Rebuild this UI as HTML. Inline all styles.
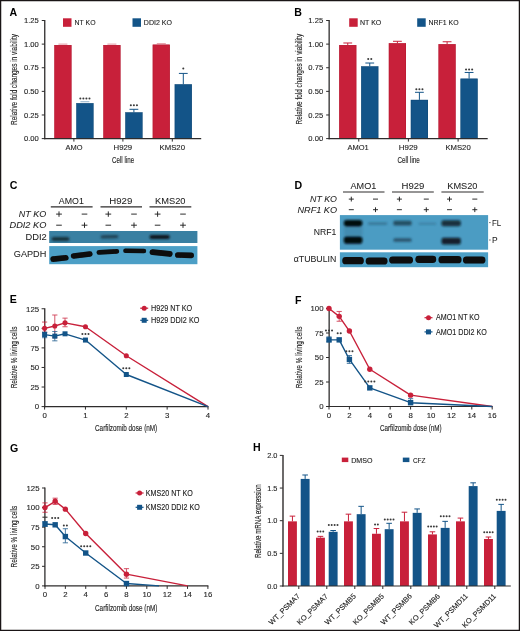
<!DOCTYPE html>
<html><head><meta charset="utf-8"><style>
html,body{margin:0;padding:0;background:#fff;width:520px;height:631px;overflow:hidden}
svg{display:block;will-change:transform}
text{font-family:"Liberation Sans", sans-serif}
</style></head><body>
<svg width="520" height="631" viewBox="0 0 520 631" font-family='"Liberation Sans", sans-serif'>
<defs><filter id="bl1" x="-30%" y="-80%" width="160%" height="260%"><feGaussianBlur stdDeviation="0.9"/></filter><filter id="bl2" x="-30%" y="-80%" width="160%" height="260%"><feGaussianBlur stdDeviation="1.4"/></filter><filter id="bl05" x="-30%" y="-80%" width="160%" height="260%"><feGaussianBlur stdDeviation="0.5"/></filter></defs>
<rect x="0" y="0" width="520" height="631" fill="#fff"/>
<text x="9.60" y="16.30" font-size="10.6" text-anchor="start" font-weight="bold" fill="#000" >A</text>
<line x1="58.40" y1="44.12" x2="67.40" y2="44.12" stroke="#c8203a" stroke-width="0.8" opacity="0.6"/>
<rect x="54.30" y="45.06" width="17.20" height="93.54" fill="#c8203a" />
<rect x="54.55" y="45.31" width="16.70" height="93.29" fill="none" stroke="#a8102a" stroke-width="0.5" opacity="0.6"/>
<line x1="80.40" y1="101.75" x2="89.40" y2="101.75" stroke="#135488" stroke-width="0.8" opacity="0.6"/>
<rect x="76.30" y="103.17" width="17.20" height="35.43" fill="#135488" />
<rect x="76.55" y="103.42" width="16.70" height="35.18" fill="none" stroke="#0b3f6a" stroke-width="0.5" opacity="0.6"/>
<circle cx="80.33" cy="98.60" r="1.02" fill="#3a3a3a"/>
<circle cx="83.38" cy="98.60" r="1.02" fill="#3a3a3a"/>
<circle cx="86.42" cy="98.60" r="1.02" fill="#3a3a3a"/>
<circle cx="89.47" cy="98.60" r="1.02" fill="#3a3a3a"/>
<line x1="107.40" y1="44.12" x2="116.40" y2="44.12" stroke="#c8203a" stroke-width="0.8" opacity="0.6"/>
<rect x="103.30" y="45.06" width="17.20" height="93.54" fill="#c8203a" />
<rect x="103.55" y="45.31" width="16.70" height="93.29" fill="none" stroke="#a8102a" stroke-width="0.5" opacity="0.6"/>
<line x1="133.90" y1="112.33" x2="133.90" y2="109.31" stroke="#135488" stroke-width="1.0" />
<line x1="129.50" y1="109.31" x2="138.30" y2="109.31" stroke="#135488" stroke-width="1.0" />
<rect x="125.30" y="112.33" width="17.20" height="26.27" fill="#135488" />
<rect x="125.55" y="112.58" width="16.70" height="26.02" fill="none" stroke="#0b3f6a" stroke-width="0.5" opacity="0.6"/>
<circle cx="130.85" cy="105.20" r="1.02" fill="#3a3a3a"/>
<circle cx="133.90" cy="105.20" r="1.02" fill="#3a3a3a"/>
<circle cx="136.95" cy="105.20" r="1.02" fill="#3a3a3a"/>
<line x1="156.80" y1="43.65" x2="165.80" y2="43.65" stroke="#c8203a" stroke-width="0.8" opacity="0.6"/>
<rect x="152.70" y="44.59" width="17.20" height="94.01" fill="#c8203a" />
<rect x="152.95" y="44.84" width="16.70" height="93.76" fill="none" stroke="#a8102a" stroke-width="0.5" opacity="0.6"/>
<line x1="183.30" y1="84.27" x2="183.30" y2="73.41" stroke="#135488" stroke-width="1.0" />
<line x1="178.90" y1="73.41" x2="187.70" y2="73.41" stroke="#135488" stroke-width="1.0" />
<rect x="174.70" y="84.27" width="17.20" height="54.33" fill="#135488" />
<rect x="174.95" y="84.52" width="16.70" height="54.08" fill="none" stroke="#0b3f6a" stroke-width="0.5" opacity="0.6"/>
<circle cx="183.30" cy="68.60" r="1.02" fill="#3a3a3a"/>
<line x1="44.75" y1="20.00" x2="44.75" y2="139.20" stroke="#2e2c2c" stroke-width="1.3" />
<line x1="44.15" y1="138.60" x2="201.20" y2="138.60" stroke="#2e2c2c" stroke-width="1.2" />
<line x1="41.75" y1="138.60" x2="44.75" y2="138.60" stroke="#2e2c2c" stroke-width="1.0" />
<text x="38.75" y="141.20" font-size="7.3" text-anchor="end" stroke="#262626" stroke-width="0.12" fill="#262626" textLength="14.80" lengthAdjust="spacingAndGlyphs" >0.00</text>
<line x1="41.75" y1="114.98" x2="44.75" y2="114.98" stroke="#2e2c2c" stroke-width="1.0" />
<text x="38.75" y="117.58" font-size="7.3" text-anchor="end" stroke="#262626" stroke-width="0.12" fill="#262626" textLength="14.80" lengthAdjust="spacingAndGlyphs" >0.25</text>
<line x1="41.75" y1="91.36" x2="44.75" y2="91.36" stroke="#2e2c2c" stroke-width="1.0" />
<text x="38.75" y="93.96" font-size="7.3" text-anchor="end" stroke="#262626" stroke-width="0.12" fill="#262626" textLength="14.80" lengthAdjust="spacingAndGlyphs" >0.50</text>
<line x1="41.75" y1="67.74" x2="44.75" y2="67.74" stroke="#2e2c2c" stroke-width="1.0" />
<text x="38.75" y="70.34" font-size="7.3" text-anchor="end" stroke="#262626" stroke-width="0.12" fill="#262626" textLength="14.80" lengthAdjust="spacingAndGlyphs" >0.75</text>
<line x1="41.75" y1="44.12" x2="44.75" y2="44.12" stroke="#2e2c2c" stroke-width="1.0" />
<text x="38.75" y="46.72" font-size="7.3" text-anchor="end" stroke="#262626" stroke-width="0.12" fill="#262626" textLength="14.80" lengthAdjust="spacingAndGlyphs" >1.00</text>
<line x1="41.75" y1="20.50" x2="44.75" y2="20.50" stroke="#2e2c2c" stroke-width="1.0" />
<text x="38.75" y="23.10" font-size="7.3" text-anchor="end" stroke="#262626" stroke-width="0.12" fill="#262626" textLength="14.80" lengthAdjust="spacingAndGlyphs" >1.25</text>
<line x1="73.90" y1="138.60" x2="73.90" y2="141.60" stroke="#2e2c2c" stroke-width="1.0" />
<line x1="122.90" y1="138.60" x2="122.90" y2="141.60" stroke="#2e2c2c" stroke-width="1.0" />
<line x1="172.30" y1="138.60" x2="172.30" y2="141.60" stroke="#2e2c2c" stroke-width="1.0" />
<text x="65.50" y="150.20" font-size="7.4" text-anchor="start" stroke="#262626" stroke-width="0.12" fill="#262626" textLength="17.00" lengthAdjust="spacingAndGlyphs" >AMO</text>
<text x="113.50" y="150.20" font-size="7.4" text-anchor="start" stroke="#262626" stroke-width="0.12" fill="#262626" textLength="18.70" lengthAdjust="spacingAndGlyphs" >H929</text>
<text x="159.50" y="150.20" font-size="7.4" text-anchor="start" stroke="#262626" stroke-width="0.12" fill="#262626" textLength="25.50" lengthAdjust="spacingAndGlyphs" >KMS20</text>
<text x="112.00" y="163.20" font-size="9.2" text-anchor="start" stroke="#262626" stroke-width="0.15" fill="#262626" textLength="22.10" lengthAdjust="spacingAndGlyphs" >Cell line</text>
<text x="16.90" y="125.00" font-size="9.4" text-anchor="start" stroke="#262626" stroke-width="0.15" fill="#262626" textLength="91.00" lengthAdjust="spacingAndGlyphs" transform="rotate(-90 16.90 125.00)" >Relative fold changes in viability</text>
<rect x="63.00" y="18.30" width="8.50" height="8.50" fill="#c8203a" />
<text x="74.60" y="25.40" font-size="7.8" text-anchor="start" stroke="#222" stroke-width="0.12" fill="#222" textLength="21.00" lengthAdjust="spacingAndGlyphs" >NT KO</text>
<rect x="132.50" y="18.30" width="8.50" height="8.50" fill="#135488" />
<text x="143.80" y="25.40" font-size="7.8" text-anchor="start" stroke="#222" stroke-width="0.12" fill="#222" textLength="28.20" lengthAdjust="spacingAndGlyphs" >DDI2 KO</text>
<text x="294.20" y="16.30" font-size="10.6" text-anchor="start" font-weight="bold" fill="#000" >B</text>
<line x1="347.75" y1="45.06" x2="347.75" y2="42.99" stroke="#c8203a" stroke-width="1.0" />
<line x1="343.35" y1="42.99" x2="352.15" y2="42.99" stroke="#c8203a" stroke-width="1.0" />
<rect x="339.15" y="45.06" width="17.20" height="93.54" fill="#c8203a" />
<rect x="339.40" y="45.31" width="16.70" height="93.29" fill="none" stroke="#a8102a" stroke-width="0.5" opacity="0.6"/>
<line x1="369.75" y1="66.32" x2="369.75" y2="63.02" stroke="#135488" stroke-width="1.0" />
<line x1="365.35" y1="63.02" x2="374.15" y2="63.02" stroke="#135488" stroke-width="1.0" />
<rect x="361.15" y="66.32" width="17.20" height="72.28" fill="#135488" />
<rect x="361.40" y="66.57" width="16.70" height="72.03" fill="none" stroke="#0b3f6a" stroke-width="0.5" opacity="0.6"/>
<circle cx="368.23" cy="59.00" r="1.02" fill="#3a3a3a"/>
<circle cx="371.28" cy="59.00" r="1.02" fill="#3a3a3a"/>
<line x1="397.40" y1="43.18" x2="397.40" y2="41.29" stroke="#c8203a" stroke-width="1.0" />
<line x1="393.00" y1="41.29" x2="401.80" y2="41.29" stroke="#c8203a" stroke-width="1.0" />
<rect x="388.80" y="43.18" width="17.20" height="95.42" fill="#c8203a" />
<rect x="389.05" y="43.43" width="16.70" height="95.17" fill="none" stroke="#a8102a" stroke-width="0.5" opacity="0.6"/>
<line x1="419.40" y1="99.86" x2="419.40" y2="92.30" stroke="#135488" stroke-width="1.0" />
<line x1="415.00" y1="92.30" x2="423.80" y2="92.30" stroke="#135488" stroke-width="1.0" />
<rect x="410.80" y="99.86" width="17.20" height="38.74" fill="#135488" />
<rect x="411.05" y="100.11" width="16.70" height="38.49" fill="none" stroke="#0b3f6a" stroke-width="0.5" opacity="0.6"/>
<circle cx="416.35" cy="89.20" r="1.02" fill="#3a3a3a"/>
<circle cx="419.40" cy="89.20" r="1.02" fill="#3a3a3a"/>
<circle cx="422.45" cy="89.20" r="1.02" fill="#3a3a3a"/>
<line x1="447.10" y1="44.12" x2="447.10" y2="41.76" stroke="#c8203a" stroke-width="1.0" />
<line x1="442.70" y1="41.76" x2="451.50" y2="41.76" stroke="#c8203a" stroke-width="1.0" />
<rect x="438.50" y="44.12" width="17.20" height="94.48" fill="#c8203a" />
<rect x="438.75" y="44.37" width="16.70" height="94.23" fill="none" stroke="#a8102a" stroke-width="0.5" opacity="0.6"/>
<line x1="469.10" y1="78.61" x2="469.10" y2="72.46" stroke="#135488" stroke-width="1.0" />
<line x1="464.70" y1="72.46" x2="473.50" y2="72.46" stroke="#135488" stroke-width="1.0" />
<rect x="460.50" y="78.61" width="17.20" height="59.99" fill="#135488" />
<rect x="460.75" y="78.86" width="16.70" height="59.74" fill="none" stroke="#0b3f6a" stroke-width="0.5" opacity="0.6"/>
<circle cx="466.05" cy="69.40" r="1.02" fill="#3a3a3a"/>
<circle cx="469.10" cy="69.40" r="1.02" fill="#3a3a3a"/>
<circle cx="472.15" cy="69.40" r="1.02" fill="#3a3a3a"/>
<line x1="329.15" y1="20.00" x2="329.15" y2="139.20" stroke="#2e2c2c" stroke-width="1.3" />
<line x1="328.55" y1="138.60" x2="487.70" y2="138.60" stroke="#2e2c2c" stroke-width="1.2" />
<line x1="326.15" y1="138.60" x2="329.15" y2="138.60" stroke="#2e2c2c" stroke-width="1.0" />
<text x="323.15" y="141.20" font-size="7.3" text-anchor="end" stroke="#262626" stroke-width="0.12" fill="#262626" textLength="14.80" lengthAdjust="spacingAndGlyphs" >0.00</text>
<line x1="326.15" y1="114.98" x2="329.15" y2="114.98" stroke="#2e2c2c" stroke-width="1.0" />
<text x="323.15" y="117.58" font-size="7.3" text-anchor="end" stroke="#262626" stroke-width="0.12" fill="#262626" textLength="14.80" lengthAdjust="spacingAndGlyphs" >0.25</text>
<line x1="326.15" y1="91.36" x2="329.15" y2="91.36" stroke="#2e2c2c" stroke-width="1.0" />
<text x="323.15" y="93.96" font-size="7.3" text-anchor="end" stroke="#262626" stroke-width="0.12" fill="#262626" textLength="14.80" lengthAdjust="spacingAndGlyphs" >0.50</text>
<line x1="326.15" y1="67.74" x2="329.15" y2="67.74" stroke="#2e2c2c" stroke-width="1.0" />
<text x="323.15" y="70.34" font-size="7.3" text-anchor="end" stroke="#262626" stroke-width="0.12" fill="#262626" textLength="14.80" lengthAdjust="spacingAndGlyphs" >0.75</text>
<line x1="326.15" y1="44.12" x2="329.15" y2="44.12" stroke="#2e2c2c" stroke-width="1.0" />
<text x="323.15" y="46.72" font-size="7.3" text-anchor="end" stroke="#262626" stroke-width="0.12" fill="#262626" textLength="14.80" lengthAdjust="spacingAndGlyphs" >1.00</text>
<line x1="326.15" y1="20.50" x2="329.15" y2="20.50" stroke="#2e2c2c" stroke-width="1.0" />
<text x="323.15" y="23.10" font-size="7.3" text-anchor="end" stroke="#262626" stroke-width="0.12" fill="#262626" textLength="14.80" lengthAdjust="spacingAndGlyphs" >1.25</text>
<line x1="358.75" y1="138.60" x2="358.75" y2="141.60" stroke="#2e2c2c" stroke-width="1.0" />
<line x1="408.40" y1="138.60" x2="408.40" y2="141.60" stroke="#2e2c2c" stroke-width="1.0" />
<line x1="458.10" y1="138.60" x2="458.10" y2="141.60" stroke="#2e2c2c" stroke-width="1.0" />
<text x="347.50" y="150.20" font-size="7.4" text-anchor="start" stroke="#262626" stroke-width="0.12" fill="#262626" textLength="21.30" lengthAdjust="spacingAndGlyphs" >AMO1</text>
<text x="398.80" y="150.20" font-size="7.4" text-anchor="start" stroke="#262626" stroke-width="0.12" fill="#262626" textLength="18.90" lengthAdjust="spacingAndGlyphs" >H929</text>
<text x="445.40" y="150.20" font-size="7.4" text-anchor="start" stroke="#262626" stroke-width="0.12" fill="#262626" textLength="25.30" lengthAdjust="spacingAndGlyphs" >KMS20</text>
<text x="397.50" y="163.20" font-size="9.2" text-anchor="start" stroke="#262626" stroke-width="0.15" fill="#262626" textLength="22.30" lengthAdjust="spacingAndGlyphs" >Cell line</text>
<text x="301.90" y="124.40" font-size="9.4" text-anchor="start" stroke="#262626" stroke-width="0.15" fill="#262626" textLength="90.50" lengthAdjust="spacingAndGlyphs" transform="rotate(-90 301.90 124.40)" >Relative fold changes in viability</text>
<rect x="349.20" y="18.30" width="8.50" height="8.50" fill="#c8203a" />
<text x="360.00" y="25.40" font-size="7.8" text-anchor="start" stroke="#222" stroke-width="0.12" fill="#222" textLength="21.30" lengthAdjust="spacingAndGlyphs" >NT KO</text>
<rect x="417.20" y="18.30" width="8.50" height="8.50" fill="#135488" />
<text x="428.50" y="25.40" font-size="7.8" text-anchor="start" stroke="#222" stroke-width="0.12" fill="#222" textLength="30.10" lengthAdjust="spacingAndGlyphs" >NRF1 KO</text>
<text x="9.80" y="189.30" font-size="10.6" text-anchor="start" font-weight="bold" fill="#000" >C</text>
<text x="58.80" y="203.90" font-size="9.6" text-anchor="start" stroke="#222" stroke-width="0.05" fill="#222" textLength="25.00" lengthAdjust="spacingAndGlyphs" >AMO1</text>
<line x1="50.80" y1="206.90" x2="92.60" y2="206.90" stroke="#2e2c2c" stroke-width="1.1" />
<text x="109.20" y="203.90" font-size="9.6" text-anchor="start" stroke="#222" stroke-width="0.05" fill="#222" textLength="23.10" lengthAdjust="spacingAndGlyphs" >H929</text>
<line x1="100.50" y1="206.90" x2="142.00" y2="206.90" stroke="#2e2c2c" stroke-width="1.1" />
<text x="155.00" y="203.90" font-size="9.6" text-anchor="start" stroke="#222" stroke-width="0.05" fill="#222" textLength="30.50" lengthAdjust="spacingAndGlyphs" >KMS20</text>
<line x1="149.50" y1="206.90" x2="191.30" y2="206.90" stroke="#2e2c2c" stroke-width="1.1" />
<text x="18.80" y="216.80" font-size="8.9" text-anchor="start" stroke="#222" stroke-width="0.05" font-style="italic" fill="#222" textLength="27.50" lengthAdjust="spacingAndGlyphs" >NT KO</text>
<text x="9.50" y="228.20" font-size="8.9" text-anchor="start" stroke="#222" stroke-width="0.05" font-style="italic" fill="#222" textLength="36.80" lengthAdjust="spacingAndGlyphs" >DDI2 KO</text>
<line x1="56.10" y1="214.10" x2="61.90" y2="214.10" stroke="#222" stroke-width="0.95" />
<line x1="59.00" y1="211.40" x2="59.00" y2="216.80" stroke="#222" stroke-width="0.95" />
<line x1="56.20" y1="225.20" x2="61.80" y2="225.20" stroke="#222" stroke-width="0.95" />
<line x1="81.70" y1="214.10" x2="87.30" y2="214.10" stroke="#222" stroke-width="0.95" />
<line x1="81.60" y1="225.20" x2="87.40" y2="225.20" stroke="#222" stroke-width="0.95" />
<line x1="84.50" y1="222.50" x2="84.50" y2="227.90" stroke="#222" stroke-width="0.95" />
<line x1="105.40" y1="214.10" x2="111.20" y2="214.10" stroke="#222" stroke-width="0.95" />
<line x1="108.30" y1="211.40" x2="108.30" y2="216.80" stroke="#222" stroke-width="0.95" />
<line x1="105.50" y1="225.20" x2="111.10" y2="225.20" stroke="#222" stroke-width="0.95" />
<line x1="131.20" y1="214.10" x2="136.80" y2="214.10" stroke="#222" stroke-width="0.95" />
<line x1="131.10" y1="225.20" x2="136.90" y2="225.20" stroke="#222" stroke-width="0.95" />
<line x1="134.00" y1="222.50" x2="134.00" y2="227.90" stroke="#222" stroke-width="0.95" />
<line x1="154.70" y1="214.10" x2="160.50" y2="214.10" stroke="#222" stroke-width="0.95" />
<line x1="157.60" y1="211.40" x2="157.60" y2="216.80" stroke="#222" stroke-width="0.95" />
<line x1="154.80" y1="225.20" x2="160.40" y2="225.20" stroke="#222" stroke-width="0.95" />
<line x1="180.20" y1="214.10" x2="185.80" y2="214.10" stroke="#222" stroke-width="0.95" />
<line x1="180.10" y1="225.20" x2="185.90" y2="225.20" stroke="#222" stroke-width="0.95" />
<line x1="183.00" y1="222.50" x2="183.00" y2="227.90" stroke="#222" stroke-width="0.95" />
<text x="25.50" y="240.30" font-size="9.5" text-anchor="start" stroke="#222" stroke-width="0.05" fill="#222" textLength="21.30" lengthAdjust="spacingAndGlyphs" >DDI2</text>
<text x="13.80" y="256.60" font-size="9.5" text-anchor="start" stroke="#222" stroke-width="0.05" fill="#222" textLength="32.50" lengthAdjust="spacingAndGlyphs" >GAPDH</text>
<rect x="49.20" y="231.00" width="148.20" height="12.00" fill="#3a80a2" />
<rect x="49.20" y="246.10" width="148.20" height="18.10" fill="#4c9fc6" />
<g filter="url(#bl1)">
<rect x="51.50" y="237.00" width="18.00" height="4.00" rx="2.4" fill="#13242f" opacity="0.85" transform="rotate(0.00 60.50 239.00)"/>
<rect x="100.50" y="235.20" width="18.00" height="3.20" rx="2.4" fill="#1b3848" opacity="0.85" transform="rotate(-1.27 109.50 236.80)"/>
<rect x="149.50" y="235.00" width="20.30" height="4.00" rx="2.4" fill="#08121a" opacity="1.0" transform="rotate(0.00 159.65 237.00)"/>
</g>
<g filter="url(#bl05)">
<rect x="50.35" y="255.60" width="18.31" height="5.60" rx="2.8" fill="#0a0808" opacity="1.0" transform="rotate(-6.27 59.50 258.40)"/>
<rect x="70.72" y="252.20" width="21.95" height="5.60" rx="2.8" fill="#0a0808" opacity="1.0" transform="rotate(-6.80 81.70 255.00)"/>
<rect x="96.48" y="249.50" width="22.74" height="4.80" rx="2.4" fill="#0a0808" opacity="1.0" transform="rotate(-3.53 107.85 251.90)"/>
<rect x="123.20" y="248.65" width="23.00" height="4.50" rx="2.2" fill="#0a0808" opacity="1.0" transform="rotate(0.50 134.70 250.90)"/>
<rect x="149.53" y="250.15" width="23.14" height="5.80" rx="2.9" fill="#0a0808" opacity="1.0" transform="rotate(6.20 161.10 253.05)"/>
<rect x="175.00" y="252.40" width="19.00" height="5.60" rx="2.8" fill="#0a0808" opacity="1.0" transform="rotate(1.21 184.50 255.20)"/>
</g>
<text x="294.50" y="189.30" font-size="10.6" text-anchor="start" font-weight="bold" fill="#000" >D</text>
<text x="350.50" y="188.60" font-size="9.0" text-anchor="start" stroke="#222" stroke-width="0.05" fill="#222" textLength="25.80" lengthAdjust="spacingAndGlyphs" >AMO1</text>
<line x1="343.00" y1="192.00" x2="384.50" y2="192.00" stroke="#2e2c2c" stroke-width="1.1" />
<text x="401.50" y="188.60" font-size="9.0" text-anchor="start" stroke="#222" stroke-width="0.05" fill="#222" textLength="22.90" lengthAdjust="spacingAndGlyphs" >H929</text>
<line x1="392.00" y1="192.00" x2="433.80" y2="192.00" stroke="#2e2c2c" stroke-width="1.1" />
<text x="447.30" y="188.60" font-size="9.0" text-anchor="start" stroke="#222" stroke-width="0.05" fill="#222" textLength="30.20" lengthAdjust="spacingAndGlyphs" >KMS20</text>
<line x1="441.40" y1="192.00" x2="483.70" y2="192.00" stroke="#2e2c2c" stroke-width="1.1" />
<text x="310.00" y="201.60" font-size="8.9" text-anchor="start" stroke="#222" stroke-width="0.05" font-style="italic" fill="#222" textLength="27.00" lengthAdjust="spacingAndGlyphs" >NT KO</text>
<text x="297.50" y="213.20" font-size="8.9" text-anchor="start" stroke="#222" stroke-width="0.05" font-style="italic" fill="#222" textLength="39.50" lengthAdjust="spacingAndGlyphs" >NRF1 KO</text>
<line x1="348.80" y1="199.10" x2="353.80" y2="199.10" stroke="#222" stroke-width="0.95" />
<line x1="351.30" y1="196.70" x2="351.30" y2="201.50" stroke="#222" stroke-width="0.95" />
<line x1="348.80" y1="209.70" x2="353.80" y2="209.70" stroke="#222" stroke-width="0.95" />
<line x1="373.00" y1="199.10" x2="378.00" y2="199.10" stroke="#222" stroke-width="0.95" />
<line x1="373.00" y1="209.70" x2="378.00" y2="209.70" stroke="#222" stroke-width="0.95" />
<line x1="375.50" y1="207.30" x2="375.50" y2="212.10" stroke="#222" stroke-width="0.95" />
<line x1="396.90" y1="199.10" x2="401.90" y2="199.10" stroke="#222" stroke-width="0.95" />
<line x1="399.40" y1="196.70" x2="399.40" y2="201.50" stroke="#222" stroke-width="0.95" />
<line x1="396.90" y1="209.70" x2="401.90" y2="209.70" stroke="#222" stroke-width="0.95" />
<line x1="423.80" y1="199.10" x2="428.80" y2="199.10" stroke="#222" stroke-width="0.95" />
<line x1="423.80" y1="209.70" x2="428.80" y2="209.70" stroke="#222" stroke-width="0.95" />
<line x1="426.30" y1="207.30" x2="426.30" y2="212.10" stroke="#222" stroke-width="0.95" />
<line x1="447.00" y1="199.10" x2="452.00" y2="199.10" stroke="#222" stroke-width="0.95" />
<line x1="449.50" y1="196.70" x2="449.50" y2="201.50" stroke="#222" stroke-width="0.95" />
<line x1="447.00" y1="209.70" x2="452.00" y2="209.70" stroke="#222" stroke-width="0.95" />
<line x1="472.30" y1="199.10" x2="477.30" y2="199.10" stroke="#222" stroke-width="0.95" />
<line x1="472.30" y1="209.70" x2="477.30" y2="209.70" stroke="#222" stroke-width="0.95" />
<line x1="474.80" y1="207.30" x2="474.80" y2="212.10" stroke="#222" stroke-width="0.95" />
<text x="313.80" y="235.20" font-size="9.0" text-anchor="start" stroke="#222" stroke-width="0.05" fill="#222" textLength="22.50" lengthAdjust="spacingAndGlyphs" >NRF1</text>
<text x="293.80" y="261.60" font-size="9.0" text-anchor="start" stroke="#222" stroke-width="0.05" fill="#222" textLength="42.50" lengthAdjust="spacingAndGlyphs" >αTUBULIN</text>
<rect x="339.90" y="215.10" width="148.20" height="34.60" fill="#4b9cc3" />
<rect x="339.90" y="252.30" width="148.20" height="14.90" fill="#4c9fc6" />
<g filter="url(#bl1)">
<rect x="344" y="226" width="18.5" height="10.5" fill="#2a5870" opacity="0.22"/>
<rect x="343.8" y="219.9" width="18.6" height="6.5" rx="2.8" fill="#06090c"/>
<rect x="343.8" y="236.4" width="18.6" height="7.4" rx="2.8" fill="#06090c"/>
<rect x="368" y="222.6" width="19.2" height="2.2" rx="1" fill="#1d4a62" opacity="0.5"/>
<rect x="393.4" y="220.8" width="18.2" height="4.6" rx="1.5" fill="#122c3a" opacity="0.7"/>
<rect x="393.4" y="238.2" width="18.2" height="3.6" rx="1.5" fill="#122c3a" opacity="0.62"/>
<rect x="418.5" y="222.8" width="17.7" height="2.0" rx="1" fill="#245670" opacity="0.4"/>
<rect x="441.5" y="220.2" width="19.3" height="6.0" rx="2" fill="#0a161e" opacity="0.82"/>
<rect x="441.5" y="237.8" width="19.3" height="6.8" rx="2" fill="#08121a" opacity="0.88"/>
</g>
<g filter="url(#bl05)" fill="#0a0808">
<rect x="342.3" y="257.10" width="21.50" height="7.2" rx="3.4"/>
<rect x="365.7" y="257.40" width="21.80" height="7.2" rx="3.4"/>
<rect x="389.2" y="256.40" width="23.80" height="7.2" rx="3.4"/>
<rect x="415.4" y="255.70" width="20.80" height="7.2" rx="3.4"/>
<rect x="438.5" y="256.10" width="23.00" height="7.2" rx="3.4"/>
<rect x="463.0" y="256.40" width="22.40" height="7.2" rx="3.4"/>
</g>
<line x1="489.20" y1="222.60" x2="490.60" y2="222.60" stroke="#2e2c2c" stroke-width="0.8" />
<text x="492.00" y="225.70" font-size="8.5" text-anchor="start" stroke="#222" stroke-width="0.05" fill="#222" textLength="9.20" lengthAdjust="spacingAndGlyphs" >FL</text>
<line x1="489.20" y1="240.00" x2="490.60" y2="240.00" stroke="#2e2c2c" stroke-width="0.8" />
<text x="492.00" y="243.10" font-size="8.5" text-anchor="start" stroke="#222" stroke-width="0.05" fill="#222" textLength="5.60" lengthAdjust="spacingAndGlyphs" >P</text>
<text x="9.80" y="303.30" font-size="10.6" text-anchor="start" font-weight="bold" fill="#000" >E</text>
<line x1="44.75" y1="308.25" x2="44.75" y2="407.20" stroke="#2e2c2c" stroke-width="1.3" />
<line x1="44.00" y1="406.60" x2="208.50" y2="406.60" stroke="#2e2c2c" stroke-width="1.2" />
<line x1="41.60" y1="406.60" x2="44.60" y2="406.60" stroke="#2e2c2c" stroke-width="1.0" />
<text x="39.10" y="409.40" font-size="7.9" text-anchor="end" stroke="#262626" stroke-width="0.12" fill="#262626" textLength="4.35" lengthAdjust="spacingAndGlyphs" >0</text>
<line x1="41.60" y1="387.03" x2="44.60" y2="387.03" stroke="#2e2c2c" stroke-width="1.0" />
<text x="39.10" y="389.83" font-size="7.9" text-anchor="end" stroke="#262626" stroke-width="0.12" fill="#262626" textLength="8.70" lengthAdjust="spacingAndGlyphs" >25</text>
<line x1="41.60" y1="367.46" x2="44.60" y2="367.46" stroke="#2e2c2c" stroke-width="1.0" />
<text x="39.10" y="370.26" font-size="7.9" text-anchor="end" stroke="#262626" stroke-width="0.12" fill="#262626" textLength="8.70" lengthAdjust="spacingAndGlyphs" >50</text>
<line x1="41.60" y1="347.89" x2="44.60" y2="347.89" stroke="#2e2c2c" stroke-width="1.0" />
<text x="39.10" y="350.69" font-size="7.9" text-anchor="end" stroke="#262626" stroke-width="0.12" fill="#262626" textLength="8.70" lengthAdjust="spacingAndGlyphs" >75</text>
<line x1="41.60" y1="328.32" x2="44.60" y2="328.32" stroke="#2e2c2c" stroke-width="1.0" />
<text x="39.10" y="331.12" font-size="7.9" text-anchor="end" stroke="#262626" stroke-width="0.12" fill="#262626" textLength="13.05" lengthAdjust="spacingAndGlyphs" >100</text>
<line x1="41.60" y1="308.75" x2="44.60" y2="308.75" stroke="#2e2c2c" stroke-width="1.0" />
<text x="39.10" y="311.55" font-size="7.9" text-anchor="end" stroke="#262626" stroke-width="0.12" fill="#262626" textLength="13.05" lengthAdjust="spacingAndGlyphs" >125</text>
<line x1="44.60" y1="406.60" x2="44.60" y2="409.60" stroke="#2e2c2c" stroke-width="1.0" />
<text x="44.60" y="417.70" font-size="7.9" text-anchor="middle" stroke="#262626" stroke-width="0.12" fill="#262626" textLength="4.35" lengthAdjust="spacingAndGlyphs" >0</text>
<line x1="85.45" y1="406.60" x2="85.45" y2="409.60" stroke="#2e2c2c" stroke-width="1.0" />
<text x="85.45" y="417.70" font-size="7.9" text-anchor="middle" stroke="#262626" stroke-width="0.12" fill="#262626" textLength="4.35" lengthAdjust="spacingAndGlyphs" >1</text>
<line x1="126.30" y1="406.60" x2="126.30" y2="409.60" stroke="#2e2c2c" stroke-width="1.0" />
<text x="126.30" y="417.70" font-size="7.9" text-anchor="middle" stroke="#262626" stroke-width="0.12" fill="#262626" textLength="4.35" lengthAdjust="spacingAndGlyphs" >2</text>
<line x1="167.15" y1="406.60" x2="167.15" y2="409.60" stroke="#2e2c2c" stroke-width="1.0" />
<text x="167.15" y="417.70" font-size="7.9" text-anchor="middle" stroke="#262626" stroke-width="0.12" fill="#262626" textLength="4.35" lengthAdjust="spacingAndGlyphs" >3</text>
<line x1="208.00" y1="406.60" x2="208.00" y2="409.60" stroke="#2e2c2c" stroke-width="1.0" />
<text x="208.00" y="417.70" font-size="7.9" text-anchor="middle" stroke="#262626" stroke-width="0.12" fill="#262626" textLength="4.35" lengthAdjust="spacingAndGlyphs" >4</text>
<g stroke="#c8203a" stroke-width="0.9" opacity="0.85">
<line x1="44.60" y1="322.06" x2="44.60" y2="332.23" stroke="#c8203a" stroke-width="0.9" />
<line x1="42.00" y1="322.06" x2="47.20" y2="322.06" stroke="#c8203a" stroke-width="0.9" />
<line x1="42.00" y1="332.23" x2="47.20" y2="332.23" stroke="#c8203a" stroke-width="0.9" />
</g>
<g stroke="#c8203a" stroke-width="0.9" opacity="0.85">
<line x1="54.81" y1="315.01" x2="54.81" y2="337.71" stroke="#c8203a" stroke-width="0.9" />
<line x1="52.21" y1="315.01" x2="57.41" y2="315.01" stroke="#c8203a" stroke-width="0.9" />
<line x1="52.21" y1="337.71" x2="57.41" y2="337.71" stroke="#c8203a" stroke-width="0.9" />
</g>
<g stroke="#c8203a" stroke-width="0.9" opacity="0.85">
<line x1="65.03" y1="318.14" x2="65.03" y2="326.75" stroke="#c8203a" stroke-width="0.9" />
<line x1="62.43" y1="318.14" x2="67.62" y2="318.14" stroke="#c8203a" stroke-width="0.9" />
<line x1="62.43" y1="326.75" x2="67.62" y2="326.75" stroke="#c8203a" stroke-width="0.9" />
</g>
<g stroke="#135488" stroke-width="0.9" opacity="0.85">
<line x1="44.60" y1="332.23" x2="44.60" y2="337.71" stroke="#135488" stroke-width="0.9" />
<line x1="42.00" y1="332.23" x2="47.20" y2="332.23" stroke="#135488" stroke-width="0.9" />
<line x1="42.00" y1="337.71" x2="47.20" y2="337.71" stroke="#135488" stroke-width="0.9" />
</g>
<g stroke="#135488" stroke-width="0.9" opacity="0.85">
<line x1="54.81" y1="331.45" x2="54.81" y2="340.84" stroke="#135488" stroke-width="0.9" />
<line x1="52.21" y1="331.45" x2="57.41" y2="331.45" stroke="#135488" stroke-width="0.9" />
<line x1="52.21" y1="340.84" x2="57.41" y2="340.84" stroke="#135488" stroke-width="0.9" />
</g>
<polyline points="44.60,328.32 54.81,325.97 65.03,322.84 85.45,326.75 126.30,355.72 208.00,406.60" fill="none" stroke="#c8203a" stroke-width="1.4" stroke-linejoin="round"/>
<polyline points="44.60,334.58 54.81,336.15 65.03,333.80 85.45,340.06 126.30,374.51 208.00,406.60" fill="none" stroke="#135488" stroke-width="1.4" stroke-linejoin="round"/>
<circle cx="44.60" cy="328.32" r="2.55" fill="#c8203a"/>
<circle cx="54.81" cy="325.97" r="2.55" fill="#c8203a"/>
<circle cx="65.03" cy="322.84" r="2.55" fill="#c8203a"/>
<circle cx="85.45" cy="326.75" r="2.55" fill="#c8203a"/>
<circle cx="126.30" cy="355.72" r="2.55" fill="#c8203a"/>
<rect x="42.10" y="332.08" width="5.00" height="5.00" fill="#135488" />
<rect x="52.31" y="333.65" width="5.00" height="5.00" fill="#135488" />
<rect x="62.53" y="331.30" width="5.00" height="5.00" fill="#135488" />
<rect x="82.95" y="337.56" width="5.00" height="5.00" fill="#135488" />
<rect x="123.80" y="372.01" width="5.00" height="5.00" fill="#135488" />
<circle cx="82.40" cy="334.00" r="1.02" fill="#3a3a3a"/>
<circle cx="85.45" cy="334.00" r="1.02" fill="#3a3a3a"/>
<circle cx="88.50" cy="334.00" r="1.02" fill="#3a3a3a"/>
<circle cx="123.25" cy="368.20" r="1.02" fill="#3a3a3a"/>
<circle cx="126.30" cy="368.20" r="1.02" fill="#3a3a3a"/>
<circle cx="129.35" cy="368.20" r="1.02" fill="#3a3a3a"/>
<line x1="140.20" y1="308.20" x2="148.20" y2="308.20" stroke="#c8203a" stroke-width="1.2" />
<circle cx="144.20" cy="308.20" r="2.5" fill="#c8203a"/>
<line x1="140.20" y1="320.30" x2="148.20" y2="320.30" stroke="#135488" stroke-width="1.2" />
<rect x="141.70" y="317.80" width="5.00" height="5.00" fill="#135488" />
<text x="151.00" y="310.90" font-size="8.5" text-anchor="start" stroke="#222" stroke-width="0.12" fill="#222" textLength="41.20" lengthAdjust="spacingAndGlyphs" >H929 NT KO</text>
<text x="151.00" y="323.00" font-size="8.5" text-anchor="start" stroke="#222" stroke-width="0.12" fill="#222" textLength="48.40" lengthAdjust="spacingAndGlyphs" >H929 DDI2 KO</text>
<text x="16.90" y="388.30" font-size="9.4" text-anchor="start" stroke="#262626" stroke-width="0.15" fill="#262626" textLength="61.70" lengthAdjust="spacingAndGlyphs" transform="rotate(-90 16.90 388.30)" >Relative % living cells</text>
<text x="95.00" y="431.20" font-size="9.2" text-anchor="start" stroke="#262626" stroke-width="0.15" fill="#262626" textLength="62.20" lengthAdjust="spacingAndGlyphs" >Carfilzomib dose (nM)</text>
<text x="295.00" y="303.50" font-size="10.6" text-anchor="start" font-weight="bold" fill="#000" >F</text>
<line x1="329.15" y1="308.00" x2="329.15" y2="407.10" stroke="#2e2c2c" stroke-width="1.3" />
<line x1="328.40" y1="406.50" x2="492.70" y2="406.50" stroke="#2e2c2c" stroke-width="1.2" />
<line x1="326.00" y1="406.50" x2="329.00" y2="406.50" stroke="#2e2c2c" stroke-width="1.0" />
<text x="323.50" y="409.30" font-size="7.9" text-anchor="end" stroke="#262626" stroke-width="0.12" fill="#262626" textLength="4.35" lengthAdjust="spacingAndGlyphs" >0</text>
<line x1="326.00" y1="382.00" x2="329.00" y2="382.00" stroke="#2e2c2c" stroke-width="1.0" />
<text x="323.50" y="384.80" font-size="7.9" text-anchor="end" stroke="#262626" stroke-width="0.12" fill="#262626" textLength="8.70" lengthAdjust="spacingAndGlyphs" >25</text>
<line x1="326.00" y1="357.50" x2="329.00" y2="357.50" stroke="#2e2c2c" stroke-width="1.0" />
<text x="323.50" y="360.30" font-size="7.9" text-anchor="end" stroke="#262626" stroke-width="0.12" fill="#262626" textLength="8.70" lengthAdjust="spacingAndGlyphs" >50</text>
<line x1="326.00" y1="333.00" x2="329.00" y2="333.00" stroke="#2e2c2c" stroke-width="1.0" />
<text x="323.50" y="335.80" font-size="7.9" text-anchor="end" stroke="#262626" stroke-width="0.12" fill="#262626" textLength="8.70" lengthAdjust="spacingAndGlyphs" >75</text>
<line x1="326.00" y1="308.50" x2="329.00" y2="308.50" stroke="#2e2c2c" stroke-width="1.0" />
<text x="323.50" y="311.30" font-size="7.9" text-anchor="end" stroke="#262626" stroke-width="0.12" fill="#262626" textLength="13.05" lengthAdjust="spacingAndGlyphs" >100</text>
<line x1="329.00" y1="406.50" x2="329.00" y2="409.50" stroke="#2e2c2c" stroke-width="1.0" />
<text x="329.00" y="417.70" font-size="7.9" text-anchor="middle" stroke="#262626" stroke-width="0.12" fill="#262626" textLength="4.35" lengthAdjust="spacingAndGlyphs" >0</text>
<line x1="349.40" y1="406.50" x2="349.40" y2="409.50" stroke="#2e2c2c" stroke-width="1.0" />
<text x="349.40" y="417.70" font-size="7.9" text-anchor="middle" stroke="#262626" stroke-width="0.12" fill="#262626" textLength="4.35" lengthAdjust="spacingAndGlyphs" >2</text>
<line x1="369.80" y1="406.50" x2="369.80" y2="409.50" stroke="#2e2c2c" stroke-width="1.0" />
<text x="369.80" y="417.70" font-size="7.9" text-anchor="middle" stroke="#262626" stroke-width="0.12" fill="#262626" textLength="4.35" lengthAdjust="spacingAndGlyphs" >4</text>
<line x1="390.20" y1="406.50" x2="390.20" y2="409.50" stroke="#2e2c2c" stroke-width="1.0" />
<text x="390.20" y="417.70" font-size="7.9" text-anchor="middle" stroke="#262626" stroke-width="0.12" fill="#262626" textLength="4.35" lengthAdjust="spacingAndGlyphs" >6</text>
<line x1="410.60" y1="406.50" x2="410.60" y2="409.50" stroke="#2e2c2c" stroke-width="1.0" />
<text x="410.60" y="417.70" font-size="7.9" text-anchor="middle" stroke="#262626" stroke-width="0.12" fill="#262626" textLength="4.35" lengthAdjust="spacingAndGlyphs" >8</text>
<line x1="431.00" y1="406.50" x2="431.00" y2="409.50" stroke="#2e2c2c" stroke-width="1.0" />
<text x="431.00" y="417.70" font-size="7.9" text-anchor="middle" stroke="#262626" stroke-width="0.12" fill="#262626" textLength="8.70" lengthAdjust="spacingAndGlyphs" >10</text>
<line x1="451.40" y1="406.50" x2="451.40" y2="409.50" stroke="#2e2c2c" stroke-width="1.0" />
<text x="451.40" y="417.70" font-size="7.9" text-anchor="middle" stroke="#262626" stroke-width="0.12" fill="#262626" textLength="8.70" lengthAdjust="spacingAndGlyphs" >12</text>
<line x1="471.80" y1="406.50" x2="471.80" y2="409.50" stroke="#2e2c2c" stroke-width="1.0" />
<text x="471.80" y="417.70" font-size="7.9" text-anchor="middle" stroke="#262626" stroke-width="0.12" fill="#262626" textLength="8.70" lengthAdjust="spacingAndGlyphs" >14</text>
<line x1="492.20" y1="406.50" x2="492.20" y2="409.50" stroke="#2e2c2c" stroke-width="1.0" />
<text x="492.20" y="417.70" font-size="7.9" text-anchor="middle" stroke="#262626" stroke-width="0.12" fill="#262626" textLength="8.70" lengthAdjust="spacingAndGlyphs" >16</text>
<g stroke="#c8203a" stroke-width="0.9" opacity="0.85">
<line x1="339.20" y1="311.44" x2="339.20" y2="321.24" stroke="#c8203a" stroke-width="0.9" />
<line x1="336.60" y1="311.44" x2="341.80" y2="311.44" stroke="#c8203a" stroke-width="0.9" />
<line x1="336.60" y1="321.24" x2="341.80" y2="321.24" stroke="#c8203a" stroke-width="0.9" />
</g>
<g stroke="#135488" stroke-width="0.9" opacity="0.85">
<line x1="349.40" y1="355.54" x2="349.40" y2="363.38" stroke="#135488" stroke-width="0.9" />
<line x1="346.80" y1="355.54" x2="352.00" y2="355.54" stroke="#135488" stroke-width="0.9" />
<line x1="346.80" y1="363.38" x2="352.00" y2="363.38" stroke="#135488" stroke-width="0.9" />
</g>
<g stroke="#135488" stroke-width="0.9" opacity="0.85">
<line x1="329.00" y1="336.92" x2="329.00" y2="341.82" stroke="#135488" stroke-width="0.9" />
<line x1="326.40" y1="336.92" x2="331.60" y2="336.92" stroke="#135488" stroke-width="0.9" />
<line x1="326.40" y1="341.82" x2="331.60" y2="341.82" stroke="#135488" stroke-width="0.9" />
</g>
<g stroke="#135488" stroke-width="0.9" opacity="0.85">
<line x1="410.60" y1="398.66" x2="410.60" y2="403.56" stroke="#135488" stroke-width="0.9" />
<line x1="408.00" y1="398.66" x2="413.20" y2="398.66" stroke="#135488" stroke-width="0.9" />
<line x1="408.00" y1="403.56" x2="413.20" y2="403.56" stroke="#135488" stroke-width="0.9" />
</g>
<polyline points="329.00,308.50 339.20,316.34 349.40,331.04 369.80,369.26 410.60,395.13 492.20,406.50" fill="none" stroke="#c8203a" stroke-width="1.4" stroke-linejoin="round"/>
<polyline points="329.00,339.86 339.20,339.86 349.40,359.46 369.80,387.88 410.60,402.68 492.20,406.50" fill="none" stroke="#135488" stroke-width="1.4" stroke-linejoin="round"/>
<circle cx="329.00" cy="308.50" r="2.7" fill="#c8203a"/>
<circle cx="339.20" cy="316.34" r="2.7" fill="#c8203a"/>
<circle cx="349.40" cy="331.04" r="2.7" fill="#c8203a"/>
<circle cx="369.80" cy="369.26" r="2.7" fill="#c8203a"/>
<circle cx="410.60" cy="395.13" r="2.7" fill="#c8203a"/>
<rect x="326.30" y="337.16" width="5.40" height="5.40" fill="#135488" />
<rect x="336.50" y="337.16" width="5.40" height="5.40" fill="#135488" />
<rect x="346.70" y="356.76" width="5.40" height="5.40" fill="#135488" />
<rect x="367.10" y="385.18" width="5.40" height="5.40" fill="#135488" />
<rect x="407.90" y="399.98" width="5.40" height="5.40" fill="#135488" />
<circle cx="325.95" cy="330.40" r="1.02" fill="#3a3a3a"/>
<circle cx="329.00" cy="330.40" r="1.02" fill="#3a3a3a"/>
<circle cx="332.05" cy="330.40" r="1.02" fill="#3a3a3a"/>
<circle cx="337.68" cy="333.20" r="1.02" fill="#3a3a3a"/>
<circle cx="340.73" cy="333.20" r="1.02" fill="#3a3a3a"/>
<circle cx="346.35" cy="351.20" r="1.02" fill="#3a3a3a"/>
<circle cx="349.40" cy="351.20" r="1.02" fill="#3a3a3a"/>
<circle cx="352.45" cy="351.20" r="1.02" fill="#3a3a3a"/>
<circle cx="365.23" cy="381.40" r="1.02" fill="#3a3a3a"/>
<circle cx="368.28" cy="381.40" r="1.02" fill="#3a3a3a"/>
<circle cx="371.33" cy="381.40" r="1.02" fill="#3a3a3a"/>
<circle cx="374.38" cy="381.40" r="1.02" fill="#3a3a3a"/>
<line x1="424.50" y1="317.70" x2="432.50" y2="317.70" stroke="#c8203a" stroke-width="1.2" />
<circle cx="428.50" cy="317.70" r="2.5" fill="#c8203a"/>
<line x1="424.50" y1="331.90" x2="432.50" y2="331.90" stroke="#135488" stroke-width="1.2" />
<rect x="426.00" y="329.40" width="5.00" height="5.00" fill="#135488" />
<text x="436.00" y="320.40" font-size="8.5" text-anchor="start" stroke="#222" stroke-width="0.12" fill="#222" textLength="43.60" lengthAdjust="spacingAndGlyphs" >AMO1 NT KO</text>
<text x="436.00" y="334.60" font-size="8.5" text-anchor="start" stroke="#222" stroke-width="0.12" fill="#222" textLength="50.90" lengthAdjust="spacingAndGlyphs" >AMO1 DDI2 KO</text>
<text x="301.90" y="388.30" font-size="9.4" text-anchor="start" stroke="#262626" stroke-width="0.15" fill="#262626" textLength="61.70" lengthAdjust="spacingAndGlyphs" transform="rotate(-90 301.90 388.30)" >Relative % living cells</text>
<text x="379.90" y="431.20" font-size="9.2" text-anchor="start" stroke="#262626" stroke-width="0.15" fill="#262626" textLength="61.80" lengthAdjust="spacingAndGlyphs" >Carfilzomib dose (nM)</text>
<text x="10.00" y="451.60" font-size="10.6" text-anchor="start" font-weight="bold" fill="#000" >G</text>
<line x1="44.90" y1="487.50" x2="44.90" y2="586.50" stroke="#2e2c2c" stroke-width="1.3" />
<line x1="44.40" y1="585.90" x2="208.40" y2="585.90" stroke="#2e2c2c" stroke-width="1.2" />
<line x1="42.00" y1="585.90" x2="45.00" y2="585.90" stroke="#2e2c2c" stroke-width="1.0" />
<text x="39.50" y="588.70" font-size="7.9" text-anchor="end" stroke="#262626" stroke-width="0.12" fill="#262626" textLength="4.35" lengthAdjust="spacingAndGlyphs" >0</text>
<line x1="42.00" y1="566.32" x2="45.00" y2="566.32" stroke="#2e2c2c" stroke-width="1.0" />
<text x="39.50" y="569.12" font-size="7.9" text-anchor="end" stroke="#262626" stroke-width="0.12" fill="#262626" textLength="8.70" lengthAdjust="spacingAndGlyphs" >25</text>
<line x1="42.00" y1="546.74" x2="45.00" y2="546.74" stroke="#2e2c2c" stroke-width="1.0" />
<text x="39.50" y="549.54" font-size="7.9" text-anchor="end" stroke="#262626" stroke-width="0.12" fill="#262626" textLength="8.70" lengthAdjust="spacingAndGlyphs" >50</text>
<line x1="42.00" y1="527.16" x2="45.00" y2="527.16" stroke="#2e2c2c" stroke-width="1.0" />
<text x="39.50" y="529.96" font-size="7.9" text-anchor="end" stroke="#262626" stroke-width="0.12" fill="#262626" textLength="8.70" lengthAdjust="spacingAndGlyphs" >75</text>
<line x1="42.00" y1="507.58" x2="45.00" y2="507.58" stroke="#2e2c2c" stroke-width="1.0" />
<text x="39.50" y="510.38" font-size="7.9" text-anchor="end" stroke="#262626" stroke-width="0.12" fill="#262626" textLength="13.05" lengthAdjust="spacingAndGlyphs" >100</text>
<line x1="42.00" y1="488.00" x2="45.00" y2="488.00" stroke="#2e2c2c" stroke-width="1.0" />
<text x="39.50" y="490.80" font-size="7.9" text-anchor="end" stroke="#262626" stroke-width="0.12" fill="#262626" textLength="13.05" lengthAdjust="spacingAndGlyphs" >125</text>
<line x1="45.00" y1="585.90" x2="45.00" y2="588.90" stroke="#2e2c2c" stroke-width="1.0" />
<text x="45.00" y="597.10" font-size="7.9" text-anchor="middle" stroke="#262626" stroke-width="0.12" fill="#262626" textLength="4.35" lengthAdjust="spacingAndGlyphs" >0</text>
<line x1="65.36" y1="585.90" x2="65.36" y2="588.90" stroke="#2e2c2c" stroke-width="1.0" />
<text x="65.36" y="597.10" font-size="7.9" text-anchor="middle" stroke="#262626" stroke-width="0.12" fill="#262626" textLength="4.35" lengthAdjust="spacingAndGlyphs" >2</text>
<line x1="85.72" y1="585.90" x2="85.72" y2="588.90" stroke="#2e2c2c" stroke-width="1.0" />
<text x="85.72" y="597.10" font-size="7.9" text-anchor="middle" stroke="#262626" stroke-width="0.12" fill="#262626" textLength="4.35" lengthAdjust="spacingAndGlyphs" >4</text>
<line x1="106.09" y1="585.90" x2="106.09" y2="588.90" stroke="#2e2c2c" stroke-width="1.0" />
<text x="106.09" y="597.10" font-size="7.9" text-anchor="middle" stroke="#262626" stroke-width="0.12" fill="#262626" textLength="4.35" lengthAdjust="spacingAndGlyphs" >6</text>
<line x1="126.45" y1="585.90" x2="126.45" y2="588.90" stroke="#2e2c2c" stroke-width="1.0" />
<text x="126.45" y="597.10" font-size="7.9" text-anchor="middle" stroke="#262626" stroke-width="0.12" fill="#262626" textLength="4.35" lengthAdjust="spacingAndGlyphs" >8</text>
<line x1="146.81" y1="585.90" x2="146.81" y2="588.90" stroke="#2e2c2c" stroke-width="1.0" />
<text x="146.81" y="597.10" font-size="7.9" text-anchor="middle" stroke="#262626" stroke-width="0.12" fill="#262626" textLength="8.70" lengthAdjust="spacingAndGlyphs" >10</text>
<line x1="167.18" y1="585.90" x2="167.18" y2="588.90" stroke="#2e2c2c" stroke-width="1.0" />
<text x="167.18" y="597.10" font-size="7.9" text-anchor="middle" stroke="#262626" stroke-width="0.12" fill="#262626" textLength="8.70" lengthAdjust="spacingAndGlyphs" >12</text>
<line x1="187.54" y1="585.90" x2="187.54" y2="588.90" stroke="#2e2c2c" stroke-width="1.0" />
<text x="187.54" y="597.10" font-size="7.9" text-anchor="middle" stroke="#262626" stroke-width="0.12" fill="#262626" textLength="8.70" lengthAdjust="spacingAndGlyphs" >14</text>
<line x1="207.90" y1="585.90" x2="207.90" y2="588.90" stroke="#2e2c2c" stroke-width="1.0" />
<text x="207.90" y="597.10" font-size="7.9" text-anchor="middle" stroke="#262626" stroke-width="0.12" fill="#262626" textLength="8.70" lengthAdjust="spacingAndGlyphs" >16</text>
<g stroke="#c8203a" stroke-width="0.9" opacity="0.85">
<line x1="45.00" y1="502.88" x2="45.00" y2="512.28" stroke="#c8203a" stroke-width="0.9" />
<line x1="42.40" y1="502.88" x2="47.60" y2="502.88" stroke="#c8203a" stroke-width="0.9" />
<line x1="42.40" y1="512.28" x2="47.60" y2="512.28" stroke="#c8203a" stroke-width="0.9" />
</g>
<g stroke="#c8203a" stroke-width="0.9" opacity="0.85">
<line x1="55.18" y1="498.18" x2="55.18" y2="504.45" stroke="#c8203a" stroke-width="0.9" />
<line x1="52.58" y1="498.18" x2="57.78" y2="498.18" stroke="#c8203a" stroke-width="0.9" />
<line x1="52.58" y1="504.45" x2="57.78" y2="504.45" stroke="#c8203a" stroke-width="0.9" />
</g>
<g stroke="#c8203a" stroke-width="0.9" opacity="0.85">
<line x1="126.45" y1="568.67" x2="126.45" y2="578.07" stroke="#c8203a" stroke-width="0.9" />
<line x1="123.85" y1="568.67" x2="129.05" y2="568.67" stroke="#c8203a" stroke-width="0.9" />
<line x1="123.85" y1="578.07" x2="129.05" y2="578.07" stroke="#c8203a" stroke-width="0.9" />
</g>
<g stroke="#135488" stroke-width="0.9" opacity="0.85">
<line x1="65.36" y1="528.73" x2="65.36" y2="542.82" stroke="#135488" stroke-width="0.9" />
<line x1="62.76" y1="528.73" x2="67.96" y2="528.73" stroke="#135488" stroke-width="0.9" />
<line x1="62.76" y1="542.82" x2="67.96" y2="542.82" stroke="#135488" stroke-width="0.9" />
</g>
<g stroke="#135488" stroke-width="0.9" opacity="0.85">
<line x1="45.00" y1="521.68" x2="45.00" y2="526.38" stroke="#135488" stroke-width="0.9" />
<line x1="42.40" y1="521.68" x2="47.60" y2="521.68" stroke="#135488" stroke-width="0.9" />
<line x1="42.40" y1="526.38" x2="47.60" y2="526.38" stroke="#135488" stroke-width="0.9" />
</g>
<polyline points="45.00,507.58 55.18,501.31 65.36,509.15 85.72,533.43 126.45,574.15 187.54,585.90" fill="none" stroke="#c8203a" stroke-width="1.4" stroke-linejoin="round"/>
<polyline points="45.00,524.03 55.18,524.81 65.36,536.56 85.72,553.01 126.45,583.55 159.03,585.90" fill="none" stroke="#135488" stroke-width="1.4" stroke-linejoin="round"/>
<circle cx="45.00" cy="507.58" r="2.7" fill="#c8203a"/>
<circle cx="55.18" cy="501.31" r="2.7" fill="#c8203a"/>
<circle cx="65.36" cy="509.15" r="2.7" fill="#c8203a"/>
<circle cx="85.72" cy="533.43" r="2.7" fill="#c8203a"/>
<circle cx="126.45" cy="574.15" r="2.7" fill="#c8203a"/>
<rect x="42.30" y="521.33" width="5.40" height="5.40" fill="#135488" />
<rect x="52.48" y="522.11" width="5.40" height="5.40" fill="#135488" />
<rect x="62.66" y="533.86" width="5.40" height="5.40" fill="#135488" />
<rect x="83.02" y="550.31" width="5.40" height="5.40" fill="#135488" />
<rect x="123.75" y="580.85" width="5.40" height="5.40" fill="#135488" />
<circle cx="52.13" cy="518.00" r="1.02" fill="#3a3a3a"/>
<circle cx="55.18" cy="518.00" r="1.02" fill="#3a3a3a"/>
<circle cx="58.23" cy="518.00" r="1.02" fill="#3a3a3a"/>
<circle cx="63.84" cy="525.40" r="1.02" fill="#3a3a3a"/>
<circle cx="66.89" cy="525.40" r="1.02" fill="#3a3a3a"/>
<circle cx="81.15" cy="546.20" r="1.02" fill="#3a3a3a"/>
<circle cx="84.20" cy="546.20" r="1.02" fill="#3a3a3a"/>
<circle cx="87.25" cy="546.20" r="1.02" fill="#3a3a3a"/>
<circle cx="90.30" cy="546.20" r="1.02" fill="#3a3a3a"/>
<line x1="135.60" y1="493.00" x2="143.60" y2="493.00" stroke="#c8203a" stroke-width="1.2" />
<circle cx="139.60" cy="493.00" r="2.5" fill="#c8203a"/>
<line x1="135.60" y1="507.30" x2="143.60" y2="507.30" stroke="#135488" stroke-width="1.2" />
<rect x="137.10" y="504.80" width="5.00" height="5.00" fill="#135488" />
<text x="145.80" y="495.70" font-size="8.5" text-anchor="start" stroke="#222" stroke-width="0.12" fill="#222" textLength="47.10" lengthAdjust="spacingAndGlyphs" >KMS20 NT KO</text>
<text x="145.80" y="510.00" font-size="8.5" text-anchor="start" stroke="#222" stroke-width="0.12" fill="#222" textLength="54.00" lengthAdjust="spacingAndGlyphs" >KMS20 DDI2 KO</text>
<text x="16.90" y="567.40" font-size="9.4" text-anchor="start" stroke="#262626" stroke-width="0.15" fill="#262626" textLength="61.70" lengthAdjust="spacingAndGlyphs" transform="rotate(-90 16.90 567.40)" >Relative % living cells</text>
<text x="95.00" y="611.00" font-size="9.2" text-anchor="start" stroke="#262626" stroke-width="0.15" fill="#262626" textLength="62.40" lengthAdjust="spacingAndGlyphs" >Carfilzomib dose (nM)</text>
<line x1="42.40" y1="517.20" x2="47.50" y2="517.20" stroke="#333" stroke-width="1.1" />
<text x="252.90" y="450.90" font-size="10.6" text-anchor="start" font-weight="bold" fill="#000" >H</text>
<line x1="292.45" y1="521.35" x2="292.45" y2="516.13" stroke="#c8203a" stroke-width="1.0" />
<line x1="289.65" y1="516.13" x2="295.25" y2="516.13" stroke="#c8203a" stroke-width="1.0" />
<rect x="288.00" y="521.35" width="8.90" height="64.65" fill="#c8203a" />
<line x1="305.15" y1="478.91" x2="305.15" y2="474.99" stroke="#135488" stroke-width="1.0" />
<line x1="302.35" y1="474.99" x2="307.95" y2="474.99" stroke="#135488" stroke-width="1.0" />
<rect x="300.70" y="478.91" width="8.90" height="107.09" fill="#135488" />
<line x1="298.80" y1="586.00" x2="298.80" y2="589.00" stroke="#2e2c2c" stroke-width="1.0" />
<text x="300.50" y="596.70" font-size="7.4" text-anchor="end" stroke="#222" stroke-width="0.12" fill="#222" textLength="40.50" lengthAdjust="spacingAndGlyphs" transform="rotate(-45 300.50 596.70)" >WT_PSMA7</text>
<line x1="320.45" y1="537.68" x2="320.45" y2="536.37" stroke="#c8203a" stroke-width="1.0" />
<line x1="317.65" y1="536.37" x2="323.25" y2="536.37" stroke="#c8203a" stroke-width="1.0" />
<rect x="316.00" y="537.68" width="8.90" height="48.32" fill="#c8203a" />
<line x1="333.15" y1="531.80" x2="333.15" y2="530.50" stroke="#135488" stroke-width="1.0" />
<line x1="330.35" y1="530.50" x2="335.95" y2="530.50" stroke="#135488" stroke-width="1.0" />
<rect x="328.70" y="531.80" width="8.90" height="54.20" fill="#135488" />
<circle cx="317.65" cy="531.40" r="1.0" fill="#3a3a3a"/>
<circle cx="320.45" cy="531.40" r="1.0" fill="#3a3a3a"/>
<circle cx="323.25" cy="531.40" r="1.0" fill="#3a3a3a"/>
<circle cx="328.80" cy="525.00" r="1.0" fill="#3a3a3a"/>
<circle cx="331.70" cy="525.00" r="1.0" fill="#3a3a3a"/>
<circle cx="334.60" cy="525.00" r="1.0" fill="#3a3a3a"/>
<circle cx="337.50" cy="525.00" r="1.0" fill="#3a3a3a"/>
<line x1="326.80" y1="586.00" x2="326.80" y2="589.00" stroke="#2e2c2c" stroke-width="1.0" />
<text x="328.50" y="596.70" font-size="7.4" text-anchor="end" stroke="#222" stroke-width="0.12" fill="#222" textLength="40.50" lengthAdjust="spacingAndGlyphs" transform="rotate(-45 328.50 596.70)" >KO_PSMA7</text>
<line x1="348.45" y1="521.35" x2="348.45" y2="514.17" stroke="#c8203a" stroke-width="1.0" />
<line x1="345.65" y1="514.17" x2="351.25" y2="514.17" stroke="#c8203a" stroke-width="1.0" />
<rect x="344.00" y="521.35" width="8.90" height="64.65" fill="#c8203a" />
<line x1="361.15" y1="514.17" x2="361.15" y2="506.33" stroke="#135488" stroke-width="1.0" />
<line x1="358.35" y1="506.33" x2="363.95" y2="506.33" stroke="#135488" stroke-width="1.0" />
<rect x="356.70" y="514.17" width="8.90" height="71.83" fill="#135488" />
<line x1="354.80" y1="586.00" x2="354.80" y2="589.00" stroke="#2e2c2c" stroke-width="1.0" />
<text x="356.50" y="596.70" font-size="7.4" text-anchor="end" stroke="#222" stroke-width="0.12" fill="#222" textLength="40.50" lengthAdjust="spacingAndGlyphs" transform="rotate(-45 356.50 596.70)" >WT_PSMB5</text>
<line x1="376.45" y1="533.76" x2="376.45" y2="528.54" stroke="#c8203a" stroke-width="1.0" />
<line x1="373.65" y1="528.54" x2="379.25" y2="528.54" stroke="#c8203a" stroke-width="1.0" />
<rect x="372.00" y="533.76" width="8.90" height="52.24" fill="#c8203a" />
<line x1="389.15" y1="529.19" x2="389.15" y2="523.31" stroke="#135488" stroke-width="1.0" />
<line x1="386.35" y1="523.31" x2="391.95" y2="523.31" stroke="#135488" stroke-width="1.0" />
<rect x="384.70" y="529.19" width="8.90" height="56.81" fill="#135488" />
<circle cx="375.05" cy="524.40" r="1.0" fill="#3a3a3a"/>
<circle cx="377.85" cy="524.40" r="1.0" fill="#3a3a3a"/>
<circle cx="384.80" cy="519.60" r="1.0" fill="#3a3a3a"/>
<circle cx="387.70" cy="519.60" r="1.0" fill="#3a3a3a"/>
<circle cx="390.60" cy="519.60" r="1.0" fill="#3a3a3a"/>
<circle cx="393.50" cy="519.60" r="1.0" fill="#3a3a3a"/>
<line x1="382.80" y1="586.00" x2="382.80" y2="589.00" stroke="#2e2c2c" stroke-width="1.0" />
<text x="384.50" y="596.70" font-size="7.4" text-anchor="end" stroke="#222" stroke-width="0.12" fill="#222" textLength="40.50" lengthAdjust="spacingAndGlyphs" transform="rotate(-45 384.50 596.70)" >KO_PSMB5</text>
<line x1="404.45" y1="521.35" x2="404.45" y2="512.21" stroke="#c8203a" stroke-width="1.0" />
<line x1="401.65" y1="512.21" x2="407.25" y2="512.21" stroke="#c8203a" stroke-width="1.0" />
<rect x="400.00" y="521.35" width="8.90" height="64.65" fill="#c8203a" />
<line x1="417.15" y1="512.86" x2="417.15" y2="508.95" stroke="#135488" stroke-width="1.0" />
<line x1="414.35" y1="508.95" x2="419.95" y2="508.95" stroke="#135488" stroke-width="1.0" />
<rect x="412.70" y="512.86" width="8.90" height="73.14" fill="#135488" />
<line x1="410.80" y1="586.00" x2="410.80" y2="589.00" stroke="#2e2c2c" stroke-width="1.0" />
<text x="412.50" y="596.70" font-size="7.4" text-anchor="end" stroke="#222" stroke-width="0.12" fill="#222" textLength="40.50" lengthAdjust="spacingAndGlyphs" transform="rotate(-45 412.50 596.70)" >WT_PSMB6</text>
<line x1="432.45" y1="534.41" x2="432.45" y2="531.80" stroke="#c8203a" stroke-width="1.0" />
<line x1="429.65" y1="531.80" x2="435.25" y2="531.80" stroke="#c8203a" stroke-width="1.0" />
<rect x="428.00" y="534.41" width="8.90" height="51.59" fill="#c8203a" />
<line x1="445.15" y1="527.88" x2="445.15" y2="521.35" stroke="#135488" stroke-width="1.0" />
<line x1="442.35" y1="521.35" x2="447.95" y2="521.35" stroke="#135488" stroke-width="1.0" />
<rect x="440.70" y="527.88" width="8.90" height="58.12" fill="#135488" />
<circle cx="428.25" cy="526.60" r="1.0" fill="#3a3a3a"/>
<circle cx="431.05" cy="526.60" r="1.0" fill="#3a3a3a"/>
<circle cx="433.85" cy="526.60" r="1.0" fill="#3a3a3a"/>
<circle cx="436.65" cy="526.60" r="1.0" fill="#3a3a3a"/>
<circle cx="440.80" cy="516.20" r="1.0" fill="#3a3a3a"/>
<circle cx="443.70" cy="516.20" r="1.0" fill="#3a3a3a"/>
<circle cx="446.60" cy="516.20" r="1.0" fill="#3a3a3a"/>
<circle cx="449.50" cy="516.20" r="1.0" fill="#3a3a3a"/>
<line x1="438.80" y1="586.00" x2="438.80" y2="589.00" stroke="#2e2c2c" stroke-width="1.0" />
<text x="440.50" y="596.70" font-size="7.4" text-anchor="end" stroke="#222" stroke-width="0.12" fill="#222" textLength="40.50" lengthAdjust="spacingAndGlyphs" transform="rotate(-45 440.50 596.70)" >KO_PSMB6</text>
<line x1="460.45" y1="521.35" x2="460.45" y2="518.09" stroke="#c8203a" stroke-width="1.0" />
<line x1="457.65" y1="518.09" x2="463.25" y2="518.09" stroke="#c8203a" stroke-width="1.0" />
<rect x="456.00" y="521.35" width="8.90" height="64.65" fill="#c8203a" />
<line x1="473.15" y1="486.09" x2="473.15" y2="482.83" stroke="#135488" stroke-width="1.0" />
<line x1="470.35" y1="482.83" x2="475.95" y2="482.83" stroke="#135488" stroke-width="1.0" />
<rect x="468.70" y="486.09" width="8.90" height="99.91" fill="#135488" />
<line x1="466.80" y1="586.00" x2="466.80" y2="589.00" stroke="#2e2c2c" stroke-width="1.0" />
<text x="468.50" y="596.70" font-size="7.4" text-anchor="end" stroke="#222" stroke-width="0.12" fill="#222" textLength="44.50" lengthAdjust="spacingAndGlyphs" transform="rotate(-45 468.50 596.70)" >WT_PSMD11</text>
<line x1="488.45" y1="538.98" x2="488.45" y2="537.02" stroke="#c8203a" stroke-width="1.0" />
<line x1="485.65" y1="537.02" x2="491.25" y2="537.02" stroke="#c8203a" stroke-width="1.0" />
<rect x="484.00" y="538.98" width="8.90" height="47.02" fill="#c8203a" />
<line x1="501.15" y1="510.90" x2="501.15" y2="504.38" stroke="#135488" stroke-width="1.0" />
<line x1="498.35" y1="504.38" x2="503.95" y2="504.38" stroke="#135488" stroke-width="1.0" />
<rect x="496.70" y="510.90" width="8.90" height="75.10" fill="#135488" />
<circle cx="484.25" cy="532.30" r="1.0" fill="#3a3a3a"/>
<circle cx="487.05" cy="532.30" r="1.0" fill="#3a3a3a"/>
<circle cx="489.85" cy="532.30" r="1.0" fill="#3a3a3a"/>
<circle cx="492.65" cy="532.30" r="1.0" fill="#3a3a3a"/>
<circle cx="496.80" cy="499.70" r="1.0" fill="#3a3a3a"/>
<circle cx="499.70" cy="499.70" r="1.0" fill="#3a3a3a"/>
<circle cx="502.60" cy="499.70" r="1.0" fill="#3a3a3a"/>
<circle cx="505.50" cy="499.70" r="1.0" fill="#3a3a3a"/>
<line x1="494.80" y1="586.00" x2="494.80" y2="589.00" stroke="#2e2c2c" stroke-width="1.0" />
<text x="496.50" y="596.70" font-size="7.4" text-anchor="end" stroke="#222" stroke-width="0.12" fill="#222" textLength="44.50" lengthAdjust="spacingAndGlyphs" transform="rotate(-45 496.50 596.70)" >KO_PSMD11</text>
<line x1="283.00" y1="454.90" x2="283.00" y2="586.60" stroke="#2e2c2c" stroke-width="1.4" />
<line x1="282.20" y1="586.00" x2="510.80" y2="586.00" stroke="#2e2c2c" stroke-width="1.2" />
<line x1="279.80" y1="586.00" x2="282.80" y2="586.00" stroke="#2e2c2c" stroke-width="1.0" />
<text x="277.50" y="588.60" font-size="7.3" text-anchor="end" stroke="#262626" stroke-width="0.12" fill="#262626" textLength="10.30" lengthAdjust="spacingAndGlyphs" >0.0</text>
<line x1="279.80" y1="553.35" x2="282.80" y2="553.35" stroke="#2e2c2c" stroke-width="1.0" />
<text x="277.50" y="555.95" font-size="7.3" text-anchor="end" stroke="#262626" stroke-width="0.12" fill="#262626" textLength="10.30" lengthAdjust="spacingAndGlyphs" >0.5</text>
<line x1="279.80" y1="520.70" x2="282.80" y2="520.70" stroke="#2e2c2c" stroke-width="1.0" />
<text x="277.50" y="523.30" font-size="7.3" text-anchor="end" stroke="#262626" stroke-width="0.12" fill="#262626" textLength="10.30" lengthAdjust="spacingAndGlyphs" >1.0</text>
<line x1="279.80" y1="488.05" x2="282.80" y2="488.05" stroke="#2e2c2c" stroke-width="1.0" />
<text x="277.50" y="490.65" font-size="7.3" text-anchor="end" stroke="#262626" stroke-width="0.12" fill="#262626" textLength="10.30" lengthAdjust="spacingAndGlyphs" >1.5</text>
<line x1="279.80" y1="455.40" x2="282.80" y2="455.40" stroke="#2e2c2c" stroke-width="1.0" />
<text x="277.50" y="458.00" font-size="7.3" text-anchor="end" stroke="#262626" stroke-width="0.12" fill="#262626" textLength="10.30" lengthAdjust="spacingAndGlyphs" >2.0</text>
<text x="260.60" y="557.90" font-size="9.4" text-anchor="start" stroke="#262626" stroke-width="0.15" fill="#262626" textLength="73.50" lengthAdjust="spacingAndGlyphs" transform="rotate(-90 260.60 557.90)" >Relative mRNA expression</text>
<rect x="341.80" y="457.60" width="6.50" height="4.50" fill="#c8203a" />
<text x="351.20" y="462.60" font-size="7.6" text-anchor="start" stroke="#222" stroke-width="0.12" fill="#222" textLength="21.30" lengthAdjust="spacingAndGlyphs" >DMSO</text>
<rect x="402.80" y="457.60" width="6.60" height="4.50" fill="#135488" />
<text x="412.90" y="462.60" font-size="7.6" text-anchor="start" stroke="#222" stroke-width="0.12" fill="#222" textLength="12.50" lengthAdjust="spacingAndGlyphs" >CFZ</text>
<rect x="0.5" y="0.5" width="519" height="630" fill="none" stroke="#1a1516" stroke-width="1.5"/>
</svg>
</body></html>
